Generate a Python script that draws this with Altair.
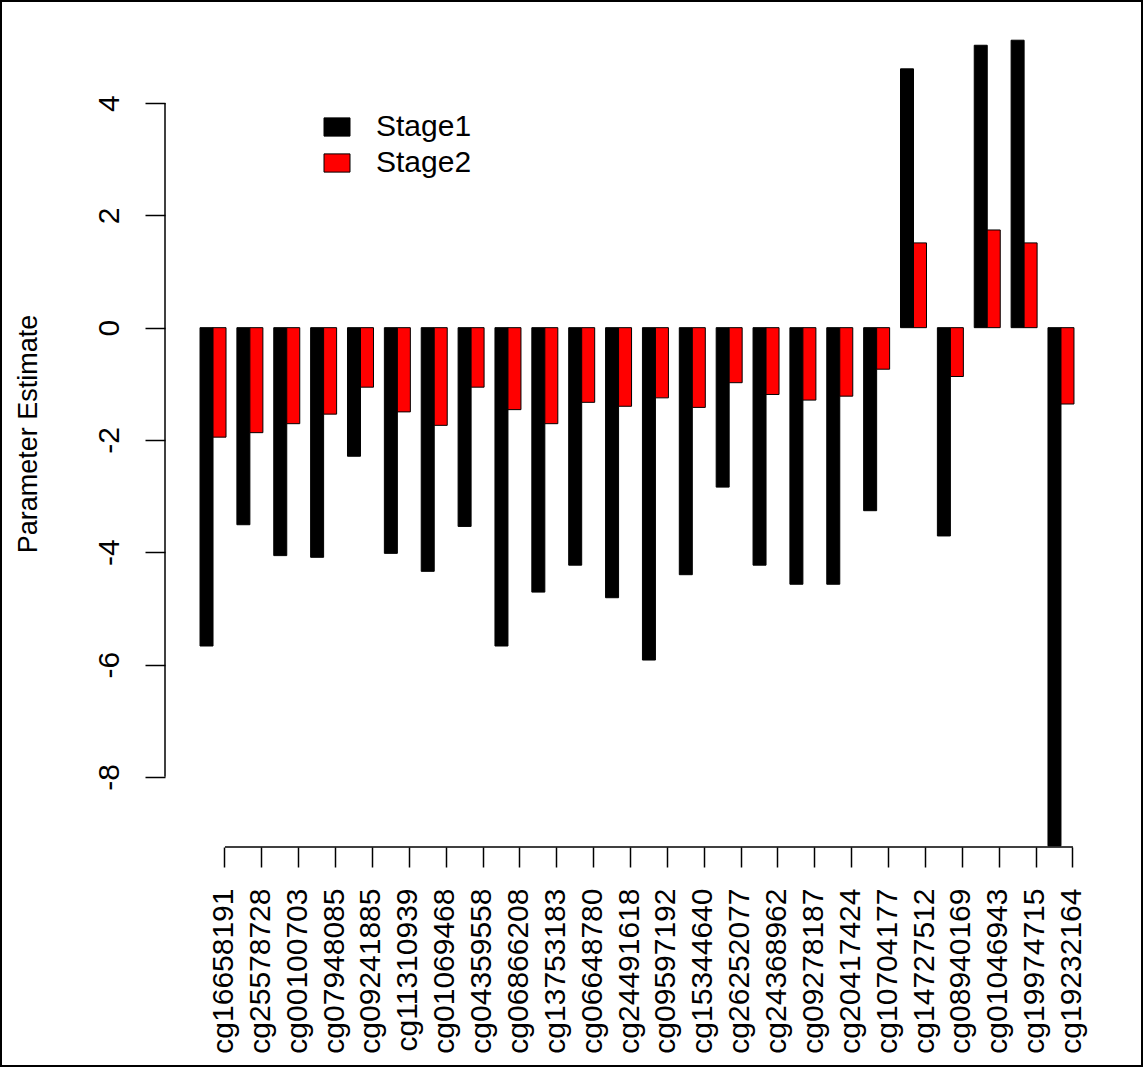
import altair as alt
import pandas as pd

cpgs = ["cg16658191", "cg25578728", "cg00100703", "cg07948085", "cg09241885",
        "cg11310939", "cg01069468", "cg04359558", "cg06866208", "cg13753183",
        "cg06648780", "cg24491618", "cg09597192", "cg15344640", "cg26252077",
        "cg24368962", "cg09278187", "cg20417424", "cg10704177", "cg14727512",
        "cg08940169", "cg01046943", "cg19974715", "cg19232164"]
stage1 = [-5.67, -3.51, -4.06, -4.09, -2.29, -4.02, -4.34, -3.54, -5.67, -4.71,
          -4.23, -4.81, -5.92, -4.40, -2.84, -4.23, -4.57, -4.57, -3.26, 4.61,
          -3.71, 5.03, 5.12, -9.23]
stage2 = [-1.95, -1.87, -1.71, -1.54, -1.06, -1.50, -1.74, -1.06, -1.46, -1.71,
          -1.33, -1.40, -1.25, -1.42, -0.98, -1.19, -1.29, -1.22, -0.74, 1.51,
          -0.87, 1.74, 1.51, -1.36]
series = ["Stage1", "Stage2"]
colors = ["#000000", "#ff0000"]
y_ticks = [-8, -6, -4, -2, 0, 2, 4]
y_domain = [-9.25, 5.48]

FONT = "Liberation Sans"

rows = []
for i, c in enumerate(cpgs):
    rows.append({"cpg": c, "stage": series[0], "value": stage1[i]})
    rows.append({"cpg": c, "stage": series[1], "value": stage2[i]})
df = pd.DataFrame(rows)

xscale = alt.Scale(domain=cpgs, paddingInner=0.295, paddingOuter=0.95)
yscale = alt.Scale(domain=y_domain, nice=False, zero=False)

bars = alt.Chart(df).mark_bar(stroke="black", strokeWidth=1).encode(
    x=alt.X("cpg:N", scale=xscale, sort=cpgs,
            axis=alt.Axis(title=None, labelAngle=-90, labelAlign="right",
                          labelBaseline="middle", labelFontSize=30, labelFont=FONT,
                          labelColor="black", labelPadding=21, labelLimit=400,
                          labelOffset=11,
                          labelOverlap=False, tickSize=20, tickColor="black",
                          tickWidth=1.5, domain=False, grid=False,
                          bandPosition=0.96)),
    xOffset=alt.XOffset("stage:N", sort=series,
                        scale=alt.Scale(paddingInner=0, paddingOuter=0)),
    y=alt.Y("value:Q", scale=yscale,
            axis=alt.Axis(values=y_ticks, title="Parameter Estimate",
                          labelExpr="'' + datum.value",
                          titleFontSize=27, titleFont=FONT, titleFontWeight="normal",
                          titleColor="black", titleX=-129, titleY=413.5,
                          titleBaseline="alphabetic", titleAngle=-90,
                          labelAngle=-90, labelAlign="center",
                          labelBaseline="alphabetic", labelFontSize=30,
                          labelFont=FONT, labelColor="black", labelPadding=27,
                          labelOverlap=False, tickSize=20, tickColor="black",
                          tickWidth=1.5, domain=False, grid=False)),
    color=alt.Color("stage:N", scale=alt.Scale(domain=series, range=colors),
                    legend=alt.Legend(title=None, orient="none", legendX=157,
                                      legendY=92, symbolType="M-1,-0.7H1V0.7H-1Z",
                                      symbolSize=676, symbolStrokeColor="black",
                                      symbolStrokeWidth=1, symbolOpacity=1,
                                      labelFontSize=30, labelFont=FONT,
                                      labelColor="black", labelOffset=24,
                                      rowPadding=6, padding=0)),
)

xline_df = pd.DataFrame({"cpg": [cpgs[0]], "cpg2": [cpgs[-1]], "value": [y_domain[0]]})
xline = alt.Chart(xline_df).mark_rule(color="black", strokeWidth=1.5).encode(
    x=alt.X("cpg:N", bandPosition=0.96),
    x2=alt.X2("cpg2", bandPosition=0.96),
    y=alt.Y("value:Q"),
)

yline_df = pd.DataFrame({"value": [min(y_ticks)], "value2": [max(y_ticks)]})
yline = alt.Chart(yline_df).mark_rule(color="black", strokeWidth=1.5).encode(
    x=alt.value(0),
    y=alt.Y("value:Q"),
    y2=alt.Y2("value2"),
)

chart = alt.layer(bars, xline, yline).properties(
    width=944, height=827,
    padding={"left": 163, "top": 18, "right": 32, "bottom": 222},
    autosize=alt.AutoSizeParams(type="none"),
).configure(background="white", view=alt.ViewConfig(stroke=None))

chart.save("out.html", embed_options={"renderer": "svg", "actions": False})

with open("out.html", "r", encoding="utf-8") as f:
    html = f.read()
style = ("<style>body{margin:0;} #vis{border:2px solid #000;width:1139px;"
         "height:1067px;overflow:hidden;} #vis .vega-embed{display:block;padding:0;}</style>")
html = html.replace("</head>", style + "</head>", 1)
with open("out.html", "w", encoding="utf-8") as f:
    f.write(html)
